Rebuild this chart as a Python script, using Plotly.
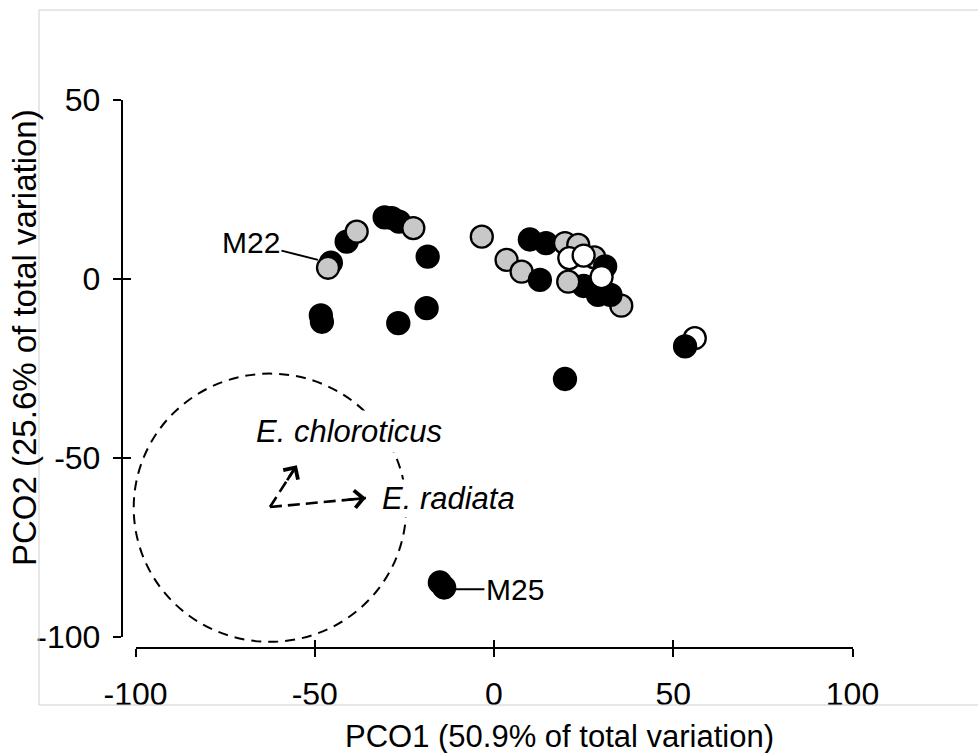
import plotly.graph_objects as go

# ---------------- data ----------------
# points in drawing order (back to front); group: B = black, G = grey, W = white
pco1 = [-45.5, -46.3, -41.1, -38.3, -30.5, -28.5, -26.5, -22.5, -18.5, -18.8, -26.7, -48.3, -48.0,
        -3.4, 10.0, 14.5, 3.5, 7.7, 12.8, 19.8, 23.5, 28.0, 31.0, 25.0, 29.0, 35.5, 32.5, 20.7,
        21.0, 25.0, 30.0,
        19.8, 56.0, 53.3, -15.1, -13.9]
pco2 = [4.5, 3.1, 10.4, 13.2, 17.2, 17.0, 16.0, 14.2, 6.2, -8.2, -12.4, -10.2, -12.0,
        11.8, 11.0, 10.0, 5.3, 2.0, -0.3, 10.0, 9.5, 6.0, 3.5, -2.0, -4.5, -7.5, -4.5, -0.8,
        5.8, 6.5, 0.5,
        -28.0, -16.6, -18.9, -84.9, -86.3]
group = ["B", "G", "B", "G", "B", "B", "B", "G", "B", "B", "B", "B", "B",
         "G", "B", "B", "G", "G", "B", "G", "G", "G", "B", "B", "B", "G", "B", "G",
         "W", "W", "W",
         "B", "W", "B", "B", "B"]

x_ticks = [-100, -50, 0, 50, 100]
y_ticks = [-100, -50, 0, 50]

# vectors (origin -> tip) and the circle (in PCO units)
vec_origin = (-62.5, -63.8)
vec_radiata = (-35.7, -61.3)
vec_chloro = (-55.0, -52.1)
circle_box = (-100.5, -101.5, -24.5, -26.5)  # x0, y0, x1, y1

# labelled samples: (name, leader tip x, leader tip y)
m22 = ("M22", -49.1, 5.3)
m25 = ("M25", -10.9, -86.8)

# ---------------- layout geometry ----------------
W, H = 978, 753
FONT = "Liberation Sans, Arial, sans-serif"
px_xm100, px_x100 = 135.5, 852.5     # pixel columns of x=-100 and x=100
px_y50, px_ym100 = 100.0, 636.5      # pixel rows of y=50 and y=-100
x_axis_row = 648.0
y_axis_col = 122.0

kx = 200.0 / (px_x100 - px_xm100)
ky = 150.0 / (px_ym100 - px_y50)
xr = [-100 - px_xm100 * kx, 100 + (W - px_x100) * kx]
yr = [-100 - (H - px_ym100) * ky, 50 + px_y50 * ky]

colors = {"B": "black", "G": "#c8c8c8", "W": "white"}

fig = go.Figure()

# dummy traces to anchor the decorative axes
for xa, ya in (("x2", "y2"), ("x3", "y3")):
    fig.add_trace(go.Scatter(x=[0], y=[0], mode="markers", marker=dict(opacity=0),
                             hoverinfo="skip", showlegend=False, xaxis=xa, yaxis=ya))

# dashed vectors
for tip in (vec_radiata, vec_chloro):
    fig.add_trace(go.Scatter(x=[vec_origin[0], tip[0]], y=[vec_origin[1], tip[1]], mode="lines",
                             line=dict(color="black", width=2.6, dash="12px,6px"),
                             hoverinfo="skip", showlegend=False, xaxis="x", yaxis="y"))

# samples
fig.add_trace(go.Scatter(
    x=pco1, y=pco2, mode="markers", xaxis="x", yaxis="y",
    marker=dict(size=22, color=[colors[g] for g in group], line=dict(color="black", width=2.3)),
    showlegend=False, hoverinfo="x+y"))

# circle
fig.add_shape(type="circle", xref="x", yref="y",
              x0=circle_box[0], y0=circle_box[1], x1=circle_box[2], y1=circle_box[3],
              line=dict(color="black", width=2, dash="10px,7px"))

# frame
fcol = "#cfcfcf"
fl, ft, fb = 39 / W, 1 - 10 / H, 1 - 705 / H
fig.add_shape(type="line", xref="paper", yref="paper", x0=fl, x1=fl, y0=fb, y1=ft, line=dict(color=fcol, width=1))
fig.add_shape(type="line", xref="paper", yref="paper", x0=fl, x1=1.0, y0=ft, y1=ft, line=dict(color=fcol, width=1))
fig.add_shape(type="line", xref="paper", yref="paper", x0=fl, x1=1.0, y0=fb, y1=fb, line=dict(color=fcol, width=1))

ann = []
# arrowheads of vectors (short solid end segment carrying an open chevron head)
for tip in (vec_radiata, vec_chloro):
    dx, dy = tip[0] - vec_origin[0], tip[1] - vec_origin[1]
    n = (dx * dx + dy * dy) ** 0.5
    ann.append(dict(x=tip[0], y=tip[1], ax=tip[0] - 5.5 * dx / n, ay=tip[1] - 5.5 * dy / n,
                    axref="x", ayref="y", xref="x", yref="y", text="", showarrow=True,
                    arrowhead=4, arrowsize=1.3, arrowwidth=2.6, arrowcolor="black"))

# species labels
ann.append(dict(x=-67.6, y=-42.8, xref="x", yref="y", text="<i>E. chloroticus</i>", showarrow=False,
                xanchor="left", yanchor="middle", bgcolor="white", borderpad=3,
                font=dict(family=FONT, size=31, color="black")))
ann.append(dict(x=-31.8, y=-61.3, xref="x", yref="y", text="<i>E. radiata</i>", showarrow=False,
                xanchor="left", yanchor="middle", bgcolor="white", borderpad=1,
                font=dict(family=FONT, size=31, color="black")))

# sample labels with leader lines
ann.append(dict(x=m22[1], y=m22[2], xref="x", yref="y", text=m22[0], showarrow=True, arrowhead=0,
                arrowwidth=2, arrowcolor="black", ax=-67, ay=-17, standoff=0,
                font=dict(family=FONT, size=30, color="black")))
ann.append(dict(x=m25[1], y=m25[2], xref="x", yref="y", text=m25[0], showarrow=True, arrowhead=0,
                arrowwidth=2, arrowcolor="black", ax=60, ay=0, standoff=0,
                font=dict(family=FONT, size=30, color="black")))

# axis titles
ann.append(dict(x=559 / W, y=1 - 736 / H, xref="paper", yref="paper", showarrow=False,
                text="PCO1 (50.9% of total variation)", xanchor="center", yanchor="middle",
                font=dict(family=FONT, size=31, color="black")))
ann.append(dict(x=24 / W, y=1 - 338 / H, xref="paper", yref="paper", showarrow=False, textangle=-90,
                text="PCO2 (25.6% of total variation)", xanchor="center", yanchor="middle",
                font=dict(family=FONT, size=33, color="black")))

tickfont = dict(family=FONT, size=32, color="black")
xdom = [px_xm100 / W, px_x100 / W]
ydom = [1 - px_ym100 / H, 1 - px_y50 / H]

fig.update_layout(
    template="none",
    width=W, height=H, margin=dict(l=0, r=0, t=0, b=0, pad=0, autoexpand=False),
    paper_bgcolor="white", plot_bgcolor="rgba(0,0,0,0)",
    annotations=ann,
    xaxis=dict(domain=[0, 1], range=xr, visible=False, fixedrange=True, automargin=False),
    yaxis=dict(domain=[0, 1], range=yr, visible=False, fixedrange=True, automargin=False),
    xaxis2=dict(domain=xdom, range=[-100, 100], anchor="free", position=1 - x_axis_row / H,
                showline=True, linecolor="black", linewidth=2.4, showgrid=False, zeroline=False,
                ticks="outside", ticklen=8, tickwidth=2, tickcolor="black", automargin=False,
                tickvals=x_ticks, ticktext=[str(v) for v in x_ticks], tickfont=tickfont,
                ticklabelstandoff=9),
    xaxis3=dict(domain=xdom, range=[-100, 100], anchor="free", position=1 - x_axis_row / H,
                showline=False, showgrid=False, zeroline=False, showticklabels=False, automargin=False,
                ticks="inside", ticklen=8, tickwidth=2, tickcolor="black", tickvals=x_ticks),
    yaxis2=dict(domain=ydom, range=[-100, 50], anchor="free", position=y_axis_col / W,
                showline=True, linecolor="black", linewidth=2.4, showgrid=False, zeroline=False,
                ticks="outside", ticklen=8, tickwidth=2, tickcolor="black", automargin=False,
                tickvals=y_ticks, ticktext=[str(v) for v in y_ticks], tickfont=tickfont,
                ticklabelstandoff=6),
    yaxis3=dict(domain=ydom, range=[-100, 50], anchor="free", position=y_axis_col / W,
                showline=False, showgrid=False, zeroline=False, showticklabels=False, automargin=False,
                ticks="inside", ticklen=8, tickwidth=2, tickcolor="black", tickvals=y_ticks),
)

fig.write_html("out.html")
